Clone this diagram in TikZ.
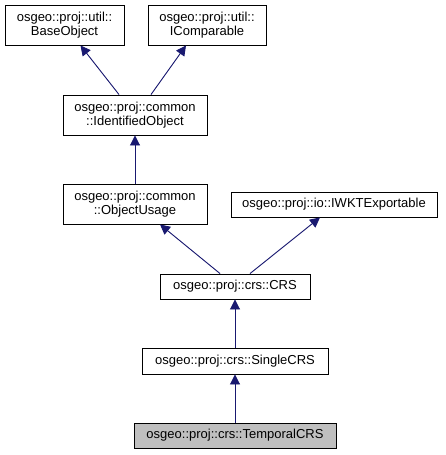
\documentclass[tikz,border=0pt]{standalone}
\usepackage{fontspec}
\setmainfont{Liberation Sans}
\usetikzlibrary{arrows.meta}

\definecolor{edgeblue}{HTML}{191970}
\definecolor{boxgray}{HTML}{BFBFBF}

\begin{document}
\begin{tikzpicture}[x=1pt,y=-1pt]
\useasboundingbox (0,0) rectangle (445,455);
\begin{scope}[every node/.style={rectangle,draw=black,line width=0.9pt,fill=white,
      inner sep=1pt,align=center,font=\fontsize{13}{14}\selectfont}]
    \node[minimum width=119pt,minimum height=40pt] (BaseObject) at (64.5,25) {osgeo::proj::util::\\BaseObject};
    \node[minimum width=118pt,minimum height=40pt] (IComparable) at (207,25) {osgeo::proj::util::\\IComparable};
    \node[minimum width=144pt,minimum height=40pt] (IdentifiedObject) at (135,115) {osgeo::proj::common\\::IdentifiedObject};
    \node[minimum width=144pt,minimum height=40pt] (ObjectUsage) at (135,204) {osgeo::proj::common\\::ObjectUsage};
    \node[minimum width=206pt,minimum height=25pt] (IWKTExportable) at (334,204.5) {osgeo::proj::io::IWKTExportable};
    \node[minimum width=150pt,minimum height=25pt] (CRS) at (235,286.5) {osgeo::proj::crs::CRS};
    \node[minimum width=186pt,minimum height=26pt] (SingleCRS) at (235,361) {osgeo::proj::crs::SingleCRS};
    \node[minimum width=202pt,minimum height=25pt,fill=boxgray] (TemporalCRS) at (235,435.5) {osgeo::proj::crs::TemporalCRS};
\end{scope}

\begin{scope}[>={Triangle[length=10pt,width=10pt]},
              every edge/.style={draw=edgeblue,line width=0.9pt,fill=edgeblue}]
    \path [->] ([xshift=-16pt]IdentifiedObject.north) edge ([xshift=16pt]BaseObject.south);
    \path [->] ([xshift=16pt]IdentifiedObject.north) edge ([xshift=-21pt]IComparable.south);
    \path [->] (ObjectUsage) edge (IdentifiedObject);
    \path [->] ([xshift=-15pt]CRS.north) edge ([xshift=25pt]ObjectUsage.south);
    \path [->] ([xshift=15pt]CRS.north) edge ([xshift=-14pt]IWKTExportable.south);
    \path [->] (SingleCRS) edge (CRS);
    \path [->] (TemporalCRS) edge (SingleCRS);
\end{scope}
\end{tikzpicture}
\end{document}
